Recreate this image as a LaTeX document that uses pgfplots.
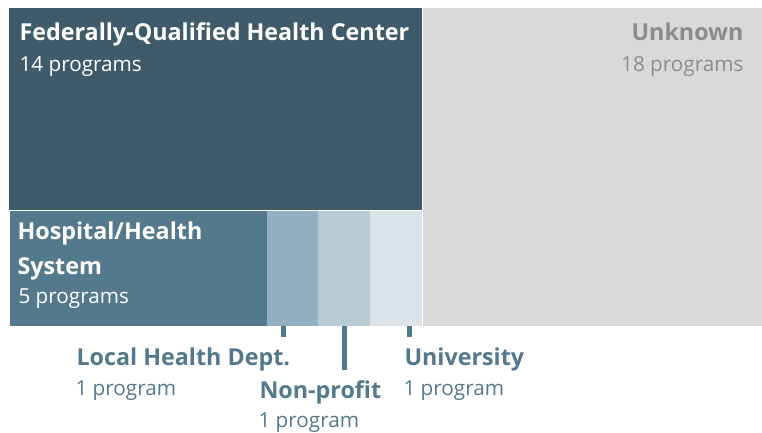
\documentclass[border=0pt]{standalone}
\usepackage{pgfplots}
\pgfplotsset{compat=1.18}
\usepackage{fontspec}
\setmainfont{Open Sans}
\definecolor{cFQ}{HTML}{3F5B6A}
\definecolor{cHO}{HTML}{54798D}
\definecolor{cLH}{HTML}{93B0C1}
\definecolor{cNP}{HTML}{B7CBD5}
\definecolor{cUN}{HTML}{DBE3E9}
\definecolor{cUK}{HTML}{D9D9D9}
\definecolor{tUK}{HTML}{8C8C8C}
\tikzset{
  bt/.style={font=\fontsize{23.3bp}{27bp}\selectfont\bfseries},
  rt/.style={font=\fontsize{20.7bp}{24bp}\selectfont},
}
\begin{document}
\begin{tikzpicture}
\begin{axis}[
  width=762bp, height=433bp, scale only axis,
  xmin=0, xmax=762, ymin=0, ymax=433, y dir=reverse,
  hide axis, clip=false,
  every node/.style={inner sep=0pt, outer sep=0pt},
]
% treemap rectangles (pixel layout from counts: 14, 18, 5, 1, 1, 1 of 40)
\addplot[draw=none, fill=cFQ] coordinates {(9,8) (422,8) (422,210) (9,210)} --cycle;
\addplot[draw=none, fill=cUK] coordinates {(423,8) (762,8) (762,326) (423,326)} --cycle;
\addplot[draw=none, fill=cHO] coordinates {(10,211) (267,211) (267,326) (10,326)} --cycle;
\addplot[draw=none, fill=cLH] coordinates {(267,211) (318,211) (318,326) (267,326)} --cycle;
\addplot[draw=none, fill=cNP] coordinates {(318,211) (370,211) (370,326) (318,326)} --cycle;
\addplot[draw=none, fill=cUN] coordinates {(370,211) (422,211) (422,326) (370,326)} --cycle;
% leader lines
\addplot[cHO, line width=5bp] coordinates {(283,326) (283,337)};
\addplot[cHO, line width=5bp] coordinates {(344,326) (344,370)};
\addplot[cHO, line width=5bp] coordinates {(409.3,326) (409.3,337)};
% labels
\node[anchor=base west, text=white, bt] at (axis cs:16,41) {Federally-Qualified Health Center};
\node[anchor=base west, text=white, rt] at (axis cs:16,72) {14 programs};
\node[anchor=base east, text=tUK, bt] at (axis cs:747,41) {Unknown};
\node[anchor=base east, text=tUK, rt] at (axis cs:747,72) {18 programs};
\node[anchor=base west, text=white, bt] at (axis cs:14,239) {Hospital/Health};
\node[anchor=base west, text=white, bt] at (axis cs:14,274) {System};
\node[anchor=base west, text=white, rt] at (axis cs:15,303.5) {5 programs};
\node[anchor=base west, text=cHO, bt] at (axis cs:73,365) {Local Health Dept.};
\node[anchor=base west, text=cHO, rt] at (axis cs:72,395) {1 program};
\node[anchor=base west, text=cHO, bt] at (axis cs:256,398.5) {Non-profit};
\node[anchor=base west, text=cHO, rt] at (axis cs:255,427.5) {1 program};
\node[anchor=base west, text=cHO, bt] at (axis cs:401,365) {University};
\node[anchor=base west, text=cHO, rt] at (axis cs:400,395) {1 program};
\end{axis}
\pgfresetboundingbox
\path[use as bounding box] (0,0) rectangle (762bp,433bp);
\end{tikzpicture}
\end{document}
